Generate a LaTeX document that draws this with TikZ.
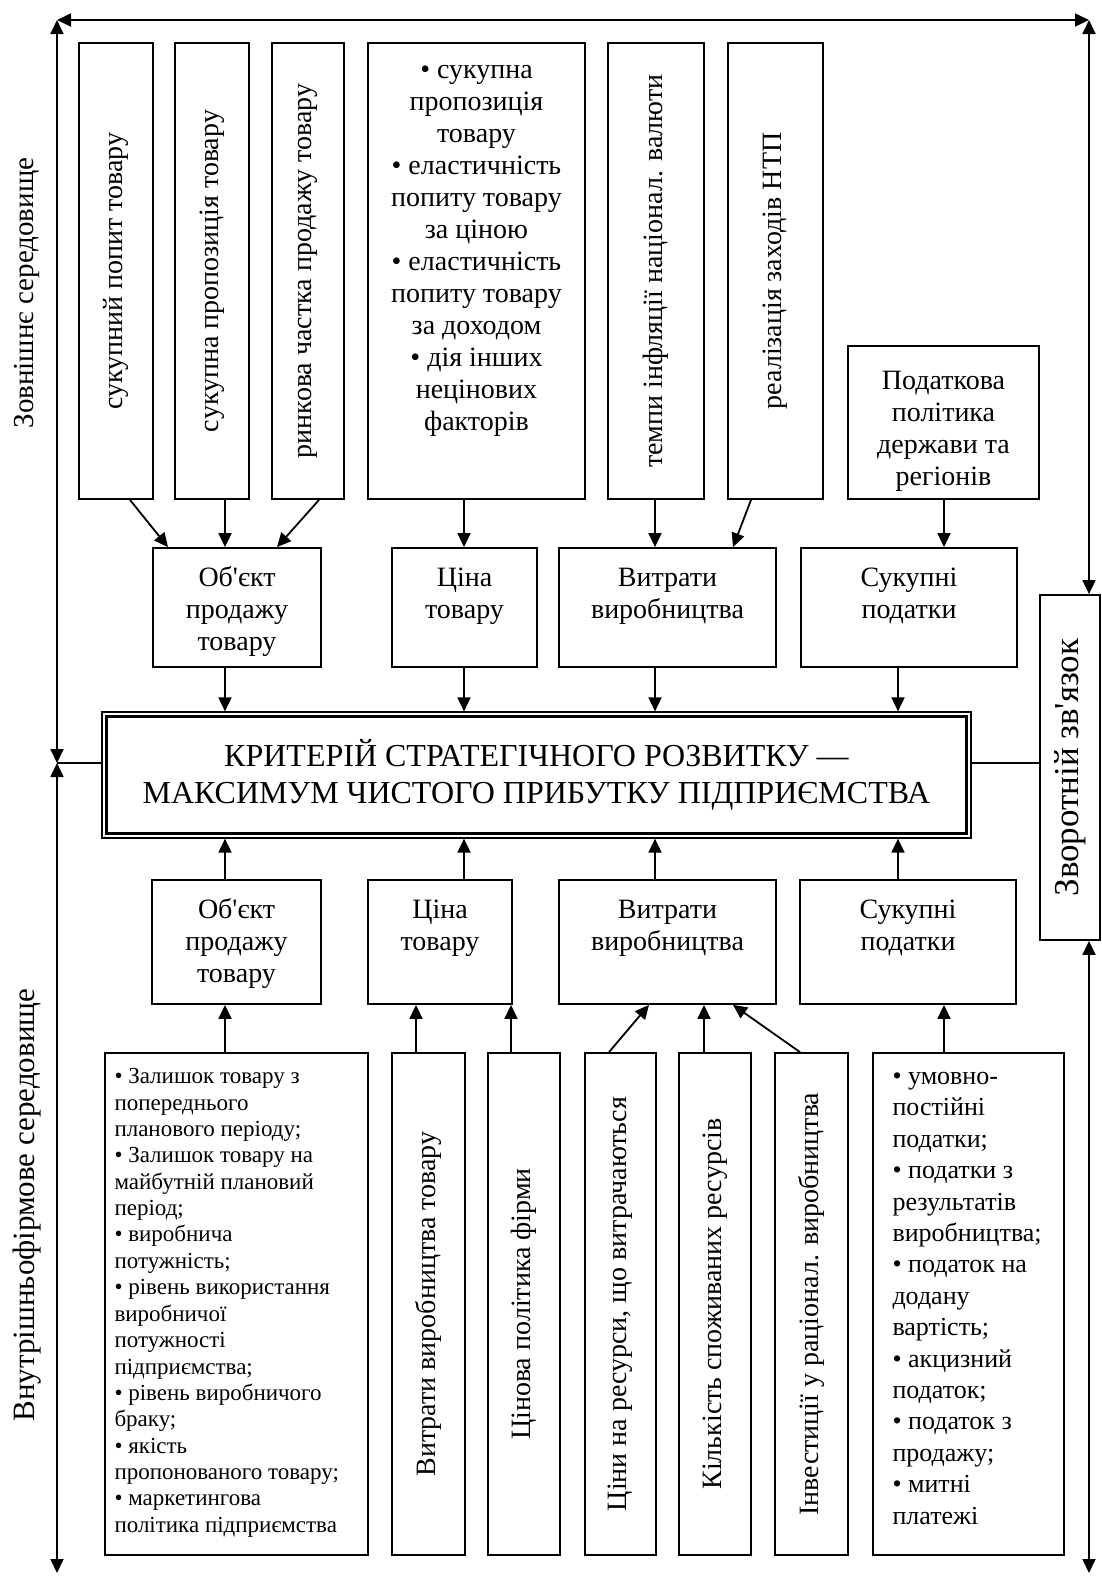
\documentclass[tikz,border=0pt]{standalone}
\usepackage{fontspec}
\setmainfont{Liberation Serif}[Ligatures=TeXOff]
\usetikzlibrary{arrows.meta,positioning}

\tikzset{
	>={Triangle[length=7pt,width=6.5pt]},
	box/.style={draw, line width=0.9pt, inner sep=0pt},
	txt/.style={font=\fontsize{14}{16}\selectfont, align=center, inner sep=0pt},
	sml/.style={font=\fontsize{11.5}{13.2}\selectfont, align=left, inner sep=0pt},
	tax/.style={font=\fontsize{13}{15.7}\selectfont, align=left, inner sep=0pt},
	big/.style={font=\fontsize{16}{18.8}\selectfont, align=center},
	link/.style={line width=0.9pt, ->},
	frame/.style={line width=0.9pt, <->}
}

\begin{document}
\begin{tikzpicture}[x=0.5pt, y=-0.5pt]
			\useasboundingbox (0,0) rectangle (1102,1576);
			\coordinate (tl) at (57,20);
			\coordinate (tr) at (1089,20);
			\coordinate (lm) at (57,763);
			\coordinate (bl) at (57,1573);
			\coordinate (br) at (1089,1573);
			\coordinate (k1) at (225,0);
			\coordinate (k2) at (464,0);
			\coordinate (k3) at (655,0);
			\coordinate (k4) at (898,0);
			\coordinate (k5) at (944,0);
			\coordinate (k6) at (733,0);
			\coordinate (ka) at (130,0);
			\coordinate (kb) at (168,0);
			\coordinate (kc) at (319,0);
			\coordinate (kd) at (277,0);
			\coordinate (ke) at (751,0);
			\coordinate (kf) at (416,0);
			\coordinate (kg) at (511,0);
			\coordinate (kh) at (609,0);
			\coordinate (ki) at (649,0);
			\coordinate (kj) at (704,0);
			\coordinate (kk) at (800,0);

			\node[rotate=90, font=\fontsize{14.5}{17}\selectfont] (outerlbl) at (27,293) {Зовнішнє середовище};
			\node[rotate=90, font=\fontsize{15.5}{18}\selectfont] (innerlbl) at (27,1205) {Внутрішньофірмове середовище};

			\node[box, minimum width=37pt, minimum height=228pt] (t1) at (116,271) {};
			\node[txt, rotate=90] (t1t) at (t1) {сукупний попит товару};
			\node[box, minimum width=37pt, minimum height=228pt] (t2) at (212,271) {};
			\node[txt, rotate=90] (t2t) at (t2) {сукупна пропозиція товару};
			\node[box, minimum width=36pt, minimum height=228pt] (t3) at (308,271) {};
			\node[txt, rotate=90] (t3t) at (t3) {ринкова частка продажу товару};
			\node[box, minimum width=108.5pt, minimum height=228pt] (t4) at (476.5,271) {};
			\node[txt, below=6.8pt of t4.north] (t4t) {\strut• сукупна\\пропозиція\\товару\\• еластичність\\попиту товару\\за ціною\\• еластичність\\попиту товару\\за доходом\\• дія інших\\нецінових\\факторів};
			\node[box, minimum width=48pt, minimum height=228pt] (t5) at (656,271) {};
			\node[txt, rotate=90] (t5t) at (t5) {темпи інфляції націонал. валюти};
			\node[box, minimum width=47.5pt, minimum height=228pt] (t6) at (775.5,271) {};
			\node[txt, rotate=90] (t6t) at (t6) {реалізація заходів НТП};
			\node[box, minimum width=95.5pt, minimum height=76.5pt] (t7) at (943.5,422.5) {};
			\node[txt, below=10.8pt of t7.north] (t7t) {\strut Податкова\\політика\\держави та\\регіонів};

			\node[box, minimum width=84pt, minimum height=59.5pt] (m1) at (237,607.5) {};
			\node[txt, below=8.3pt of m1.north] (m1t) {\strut Об'єкт\\продажу\\товару};
			\node[box, minimum width=72.5pt, minimum height=59.5pt] (m2) at (464.5,607.5) {};
			\node[txt, below=8.3pt of m2.north] (m2t) {\strut Ціна\\товару};
			\node[box, minimum width=108.5pt, minimum height=59.5pt] (m3) at (667.5,607.5) {};
			\node[txt, below=8.3pt of m3.north] (m3t) {\strut Витрати\\виробництва};
			\node[box, minimum width=108pt, minimum height=59.5pt] (m4) at (909,607.5) {};
			\node[txt, below=8.3pt of m4.north] (m4t) {\strut Сукупні\\податки};

			\node[draw, line width=0.6pt, big, minimum width=434.5pt, minimum height=63pt] (crit) at (536.5,775) {КРИТЕРІЙ СТРАТЕГІЧНОГО РОЗВИТКУ —\\МАКСИМУМ ЧИСТОГО ПРИБУТКУ ПІДПРИЄМСТВА};
			\draw[line width=1.4pt] ([shift={(2.5pt,-2.5pt)}]crit.north west) rectangle ([shift={(-2.5pt,2.5pt)}]crit.south east);

			\node[box, minimum width=84.5pt, minimum height=62pt] (n1) at (236.5,942) {};
			\node[txt, below=8.3pt of n1.north] (n1t) {\strut Об'єкт\\продажу\\товару};
			\node[box, minimum width=72pt, minimum height=62pt] (n2) at (440,942) {};
			\node[txt, below=8.3pt of n2.north] (n2t) {\strut Ціна\\товару};
			\node[box, minimum width=108.5pt, minimum height=62pt] (n3) at (667.5,942) {};
			\node[txt, below=8.3pt of n3.north] (n3t) {\strut Витрати\\виробництва};
			\node[box, minimum width=108pt, minimum height=62pt] (n4) at (908,942) {};
			\node[txt, below=8.3pt of n4.north] (n4t) {\strut Сукупні\\податки};

			\node[box, minimum width=131.5pt, minimum height=251pt] (b1) at (236.5,1304) {};
			\node[sml, anchor=north west] (b1t) at ([shift={(5pt,-6.3pt)}]b1.north west) {\strut• Залишок товару з\\попереднього\\планового періоду;\\• Залишок товару на\\майбутній плановий\\період;\\• виробнича\\потужність;\\• рівень використання\\виробничої\\потужності\\підприємства;\\• рівень виробничого\\браку;\\• якість\\пропонованого товару;\\• маркетингова\\політика підприємства};
			\node[box, minimum width=36.5pt, minimum height=251pt] (b2) at (428.5,1304) {};
			\node[txt, rotate=90] (b2t) at (b2) {Витрати виробництва товару};
			\node[box, minimum width=36pt, minimum height=251pt] (b3) at (524,1304) {};
			\node[txt, rotate=90] (b3t) at (b3) {Цінова політика фірми};
			\node[box, minimum width=35.5pt, minimum height=251pt] (b4) at (620.5,1304) {};
			\node[txt, rotate=90] (b4t) at (b4) {Ціни на ресурси, що витрачаються};
			\node[box, minimum width=36pt, minimum height=251pt] (b5) at (715,1304) {};
			\node[txt, rotate=90] (b5t) at (b5) {Кількість споживаних ресурсів};
			\node[box, minimum width=36.5pt, minimum height=251pt] (b6) at (811.5,1304) {};
			\node[txt, rotate=90] (b6t) at (b6) {Інвестиції у раціонал. виробництва};
			\node[box, minimum width=95.5pt, minimum height=251pt] (b7) at (968.5,1304) {};
			\node[tax, anchor=north west] (b7t) at ([shift={(10pt,-5pt)}]b7.north west) {\strut• умовно-\\постійні\\податки;\\• податки з\\результатів\\виробництва;\\• податок на\\додану\\вартість;\\• акцизний\\податок;\\• податок з\\продажу;\\• митні\\платежі};

			\node[box, minimum width=30pt, minimum height=172.5pt] (fb) at (1070,767.5) {};
			\node[rotate=90, font=\fontsize{17.5}{20}\selectfont, inner sep=0pt] (fbt) at (fb) {Зворотній зв'язок};

			\draw[frame] (tl) -- (tr);
			\draw[frame] (tl) -- (lm);
			\draw[frame] (lm) -- (bl);
			\draw[frame] (tr) -- (fb.north -| tr);
			\draw[frame] (fb.south -| br) -- (br);
			\draw[line width=0.9pt] (lm) -- (crit.west |- lm);
			\draw[line width=0.9pt] (crit.east |- lm) -- (fb.west |- lm);

			\draw[link] (t1.south -| ka) -- (m1.north -| kb);
			\draw[link] (t2.south -| k1) -- (m1.north -| k1);
			\draw[link] (t3.south -| kc) -- (m1.north -| kd);
			\draw[link] (t4.south -| k2) -- (m2.north -| k2);
			\draw[link] (t5.south -| k3) -- (m3.north -| k3);
			\draw[link] (t6.south -| ke) -- (m3.north -| k6);
			\draw[link] (t7.south -| k5) -- (m4.north -| k5);

			\draw[link] (m1.south -| k1) -- (crit.north -| k1);
			\draw[link] (m2.south -| k2) -- (crit.north -| k2);
			\draw[link] (m3.south -| k3) -- (crit.north -| k3);
			\draw[link] (m4.south -| k4) -- (crit.north -| k4);

			\draw[link] (n1.north -| k1) -- (crit.south -| k1);
			\draw[link] (n2.north -| k2) -- (crit.south -| k2);
			\draw[link] (n3.north -| k3) -- (crit.south -| k3);
			\draw[link] (n4.north -| k4) -- (crit.south -| k4);

			\draw[link] (b1.north -| k1) -- (n1.south -| k1);
			\draw[link] (b2.north -| kf) -- (n2.south -| kf);
			\draw[link] (b3.north -| kg) -- (n2.south -| kg);
			\draw[link] (b4.north -| kh) -- (n3.south -| ki);
			\draw[link] (b5.north -| kj) -- (n3.south -| kj);
			\draw[link] (b6.north -| kk) -- (n3.south -| k6);
			\draw[link] (b7.north -| k5) -- (n4.south -| k5);
		\end{tikzpicture}
\end{document}
